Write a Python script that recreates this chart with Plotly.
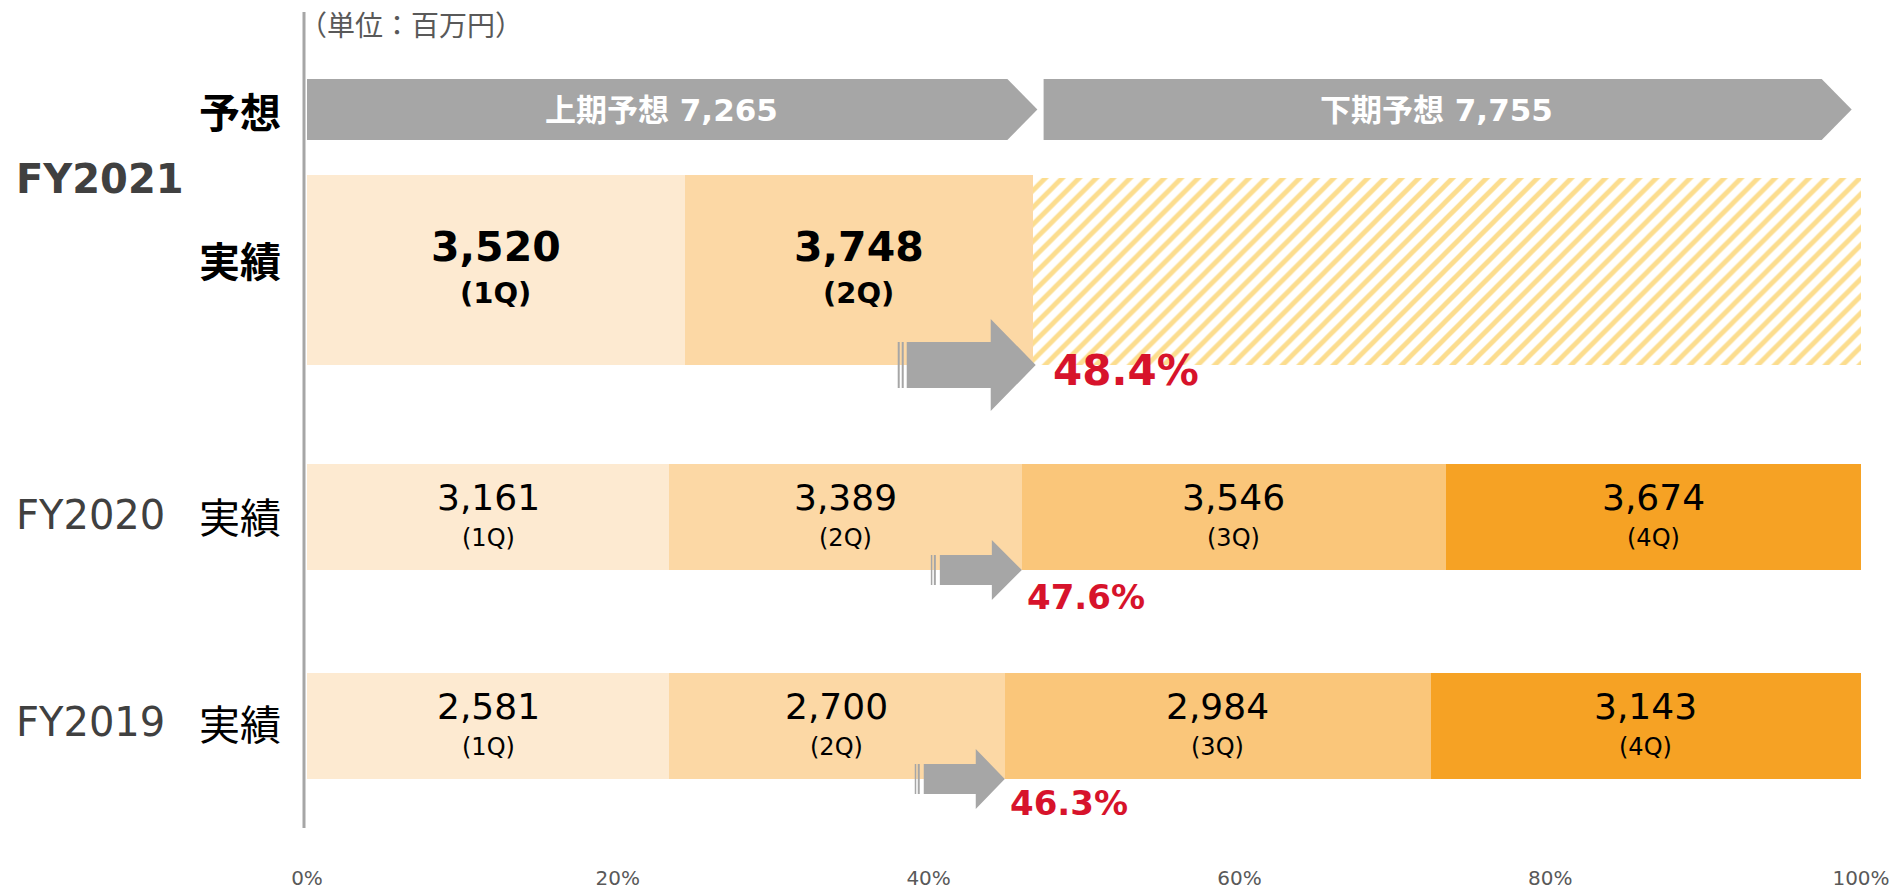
import plotly.graph_objects as go

# ---------------- data ----------------
quarters = ["1Q", "2Q", "3Q", "4Q"]
sales_fy2021 = [3520, 3748]
sales_fy2020 = [3161, 3389, 3546, 3674]
sales_fy2019 = [2581, 2700, 2984, 3143]
# bar lengths on the 0-100% axis as drawn in the picture
share_fy2021 = [24.3, 22.4]
share_fy2021_rest = 53.3
share_fy2020 = [23.3, 22.7, 27.3, 26.7]
share_fy2019 = [23.3, 21.6, 27.4, 27.7]
first_half_ratio = ["48.4%", "47.6%", "46.3%"]
forecast_labels = ["上期予想 7,265", "下期予想 7,755"]
forecast_start = [0.0, 47.4]
forecast_end = [47.0, 99.4]
tick_vals = [0, 20, 40, 60, 80, 100]
tick_text = ["0%", "20%", "40%", "60%", "80%", "100%"]

# ---------------- layout constants ----------------
W, H = 1892, 889
ML, MR, MT, MB = 307, 31, 0, 25
PW = W - ML - MR
PH = H - MT - MB
PX = PW / 100.0  # pixels per percent

LAT = "DejaVu Sans, Noto Sans CJK JP"
JP = "Noto Sans CJK JP"
q_colors = ["#FDEAD1", "#FCD8A5", "#FAC67A", "#F6A224"]
GRAY = "#A6A6A6"
RED = "#D7132B"

# rows: (top, bottom) in pixels from top of plot area
rows = {
    "forecast": (79, 140),
    "FY2021": (175, 365),
    "FY2020": (464, 570),
    "FY2019": (673, 779),
}
hatch_row = (178, 365)


def ctr(r):
    return (r[0] + r[1]) / 2.0


def hgt(r):
    return r[1] - r[0]


row_data = [
    ("FY2021", share_fy2021, sales_fy2021),
    ("FY2020", share_fy2020, sales_fy2020),
    ("FY2019", share_fy2019, sales_fy2019),
]

fig = go.Figure()
annotations = []
shapes = []

# stacked quarter bars
for qi, qname in enumerate(quarters):
    ys, xs, bases, widths = [], [], [], []
    for name, shares, sales in row_data:
        if qi < len(shares):
            r = rows[name]
            ys.append(ctr(r))
            xs.append(shares[qi])
            bases.append(sum(shares[:qi]))
            widths.append(hgt(r))
    fig.add_trace(go.Bar(
        y=ys, x=xs, base=bases, width=widths, orientation="h",
        marker=dict(color=q_colors[qi], line=dict(width=0)),
        hoverinfo="skip", showlegend=False,
    ))

# hatched remainder of FY2021 (second half, not yet reported)
fig.add_trace(go.Bar(
    y=[ctr(hatch_row)], x=[share_fy2021_rest], base=[sum(share_fy2021)],
    width=[hgt(hatch_row)], orientation="h",
    marker=dict(color="white", line=dict(width=0),
                pattern=dict(shape="/", fgcolor="#FCDD8E", bgcolor="white",
                             size=12, solidity=0.4, fillmode="replace")),
    hoverinfo="skip", showlegend=False,
))

# value + quarter labels
for name, shares, sales in row_data:
    r = rows[name]
    c = ctr(r)
    big = name == "FY2021"
    for qi, v in enumerate(sales):
        xc = sum(shares[:qi]) + shares[qi] / 2.0
        annotations.append(dict(
            x=xc, y=c, yshift=(23 if big else 20), text=f"{v:,}",
            showarrow=False, xanchor="center", yanchor="middle",
            font=dict(family=LAT, size=(41 if big else 36), color="black",
                      weight=("bold" if big else "normal"))))
        annotations.append(dict(
            x=xc, y=c, yshift=-(23 if big else 21), text=f"({quarters[qi]})",
            showarrow=False, xanchor="center", yanchor="middle",
            font=dict(family=LAT, size=(29 if big else 24), color="black",
                      weight=("bold" if big else "normal"))))

# striped arrows pointing at the end of 2Q, and first-half ratio labels
arrow_specs = {
    "FY2021": dict(tip=3, head=45, half=46, shaft=23, body=-126, stripes=[(-135, -133), (-131, -129)],
                   tshift=18, tdy=-5, tsize=42),
    "FY2020": dict(tip=0, head=30, half=30, shaft=15, body=-82, stripes=[(-91, -89.5), (-88, -86)],
                   tshift=3, tdy=-27, tsize=34),
    "FY2019": dict(tip=0, head=29, half=30, shaft=15, body=-81, stripes=[(-90, -88.5), (-87, -85)],
                   tshift=3, tdy=-24, tsize=34),
}
for (name, shares, sales), ratio in zip(row_data, first_half_ratio):
    r = rows[name]
    s = arrow_specs[name]
    xa = shares[0] + shares[1]
    t = s["tip"]
    hx = t - s["head"]
    path = (f"M {s['body']},{-s['shaft']} L {hx},{-s['shaft']} L {hx},{-s['half']} "
            f"L {t},0 L {hx},{s['half']} L {hx},{s['shaft']} L {s['body']},{s['shaft']} Z")
    shapes.append(dict(type="path", xref="x", yref="y", xsizemode="pixel", ysizemode="pixel",
                       xanchor=xa, yanchor=r[1], path=path,
                       fillcolor=GRAY, line=dict(width=0)))
    for (a, b) in s["stripes"]:
        shapes.append(dict(type="rect", xref="x", yref="y", xsizemode="pixel", ysizemode="pixel",
                           xanchor=xa, yanchor=r[1], x0=a, x1=b, y0=-s["shaft"], y1=s["shaft"],
                           fillcolor=GRAY, line=dict(width=0)))
    annotations.append(dict(
        x=xa, y=r[1], xshift=s["tshift"], yshift=s["tdy"], text=ratio,
        showarrow=False, xanchor="left", yanchor="middle",
        font=dict(family=LAT, size=s["tsize"], color=RED, weight="bold")))

# forecast chevrons
fr = rows["forecast"]
d = 30 / PX
for x0, x1, lab in zip(forecast_start, forecast_end, forecast_labels):
    path = (f"M {x0},{fr[0]} L {x1 - d},{fr[0]} L {x1},{ctr(fr)} "
            f"L {x1 - d},{fr[1]} L {x0},{fr[1]} Z")
    shapes.append(dict(type="path", xref="x", yref="y", path=path,
                       fillcolor=GRAY, line=dict(width=0), layer="below"))
    annotations.append(dict(
        x=(x0 + x1 - d) / 2.0, y=ctr(fr), xshift=4, text=lab, showarrow=False,
        xanchor="center", yanchor="middle",
        font=dict(family=LAT, size=31, color="white", weight="bold")))

# vertical axis line (paper coordinates so it is not clipped by the plot area)
shapes.append(dict(type="line", xref="paper", yref="paper",
                   x0=-3 / PW, x1=-3 / PW, y0=1 - 828 / PH, y1=1 - 12 / PH,
                   line=dict(color=GRAY, width=3)))

# unit note
annotations.append(dict(x=0, y=24, xshift=-10, text="（単位：百万円）", showarrow=False,
                        xanchor="left", yanchor="middle",
                        font=dict(family=JP, size=28, color="#595959")))

# row labels
annotations += [
    dict(x=0, y=ctr(fr), xshift=-24, text="予想", showarrow=False, xanchor="right",
         yanchor="middle", font=dict(family=JP, size=41, color="black", weight="bold")),
    dict(x=0, y=179, xshift=14 - ML, text="FY2021", showarrow=False, xanchor="left",
         yanchor="middle", font=dict(family=LAT, size=40, color="#404040", weight="bold")),
    dict(x=0, y=259, xshift=-24, text="実績", showarrow=False, xanchor="right",
         yanchor="middle", font=dict(family=JP, size=41, color="black", weight="bold")),
]
for name, yc in (("FY2020", 515), ("FY2019", 722)):
    annotations.append(dict(x=0, y=yc, xshift=167 - ML, text=name, showarrow=False,
                            xanchor="right", yanchor="middle",
                            font=dict(family=LAT, size=40, color="#404040")))
    annotations.append(dict(x=0, y=yc, xshift=-24, text="実績", showarrow=False,
                            xanchor="right", yanchor="middle",
                            font=dict(family=JP, size=41, color="black")))

fig.update_layout(
    width=W, height=H,
    margin=dict(l=ML, r=MR, t=MT, b=MB, pad=0),
    paper_bgcolor="white", plot_bgcolor="white",
    barmode="overlay", bargap=0,
    showlegend=False,
    xaxis=dict(range=[0, 100], tickvals=tick_vals, ticktext=tick_text, showgrid=False,
               zeroline=False, showline=False, ticks="", fixedrange=True,
               tickfont=dict(family=LAT, size=20, color="#595959")),
    yaxis=dict(range=[PH, 0], visible=False, fixedrange=True),
    shapes=shapes,
    annotations=annotations,
)

fig.write_html("out.html", config={"displayModeBar": False})
